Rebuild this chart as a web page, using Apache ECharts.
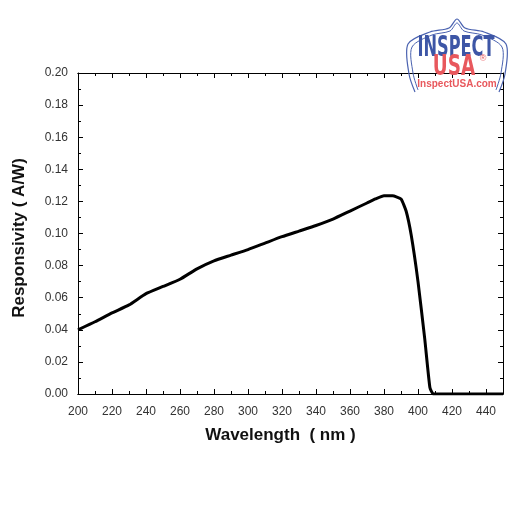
<!DOCTYPE html>
<html>
<head>
<meta charset="utf-8">
<script src="https://cdn.jsdelivr.net/npm/echarts@6/dist/echarts.min.js"></script>
<style>
  html, body { margin: 0; padding: 0; background: #fff; }
  #chart { width: 512px; height: 512px; }
</style>
</head>
<body>
<div id="chart"></div>
<script>
// spectral response
const wavelength = [200, 210, 220, 230, 240, 250, 260, 270, 280, 290, 300, 310, 320, 330, 340, 350,
  360, 370, 375, 380, 385, 390, 393, 396, 400, 404, 407, 409, 420, 430, 440, 450];
const responsivity = [0.040, 0.045, 0.0505, 0.0555, 0.0625, 0.067, 0.0715, 0.078, 0.083, 0.0865, 0.090,
  0.094, 0.098, 0.1015, 0.105, 0.109, 0.114, 0.119, 0.1215, 0.1235, 0.1235, 0.1215, 0.114, 0.099,
  0.070, 0.034, 0.004, 0, 0, 0, 0, 0];

const xTickLabels = [200, 220, 240, 260, 280, 300, 320, 340, 360, 380, 400, 420, 440];
const yTickLabels = ['0.00', '0.02', '0.04', '0.06', '0.08', '0.10', '0.12', '0.14', '0.16', '0.18', '0.20'];

const FONT = '"Liberation Sans", Arial, sans-serif';
const black = '#000';

function xAxisDef(position, interval, tickLen, withLabels) {
  return {
    type: 'value',
    position: position,
    min: 200,
    max: 450,
    interval: interval,
    axisLine: { show: true, onZero: false, lineStyle: { color: black, width: 1 } },
    axisTick: { show: true, inside: true, length: tickLen, lineStyle: { color: black } },
    axisLabel: withLabels ? {
      show: true,
      margin: 12,
      fontSize: 12,
      fontFamily: FONT,
      color: '#333',
      formatter: v => (xTickLabels.indexOf(v) >= 0 ? String(v) : '')
    } : { show: false },
    splitLine: { show: false }
  };
}

function yAxisDef(position, withLabels) {
  return {
    type: 'value',
    position: position,
    min: 0,
    max: 0.2,
    interval: 0.02,
    axisLine: { show: true, onZero: false, lineStyle: { color: black, width: 1 } },
    axisTick: { show: true, inside: true, length: 5, lineStyle: { color: black } },
    minorTick: { show: true, splitNumber: 2, length: 3, lineStyle: { color: black } },
    axisLabel: withLabels ? {
      show: true,
      margin: 10,
      fontSize: 12,
      fontFamily: FONT,
      color: '#333',
      formatter: v => yTickLabels[Math.round(v / 0.02)]
    } : { show: false },
    splitLine: { show: false }
  };
}

const xMain = xAxisDef('bottom', 10, 3, true);
xMain.name = 'Wavelength  ( nm )';
xMain.nameLocation = 'middle';
xMain.nameGap = 33;
xMain.nameTextStyle = { fontSize: 17, fontWeight: 'bold', fontFamily: FONT, color: '#111', padding: [0, 20, 0, 0] };

const yMain = yAxisDef('left', true);
yMain.name = 'Responsivity ( A/W)';
yMain.nameLocation = 'middle';
yMain.nameGap = 50;
yMain.nameTextStyle = { fontSize: 17, fontWeight: 'bold', fontFamily: FONT, color: '#111', padding: [0, 9, 0, 0] };

const blue = '#4a62b0';
const red = '#e8585d';

// logo shield outline (decoration)
const shieldOuter = [[415, 92], [409, 74], [408, 44], [430, 32], [449, 28], [457, 19], [465, 28], [484, 32], [506, 44], [505, 74], [499, 92]];
const shieldInner = [[418, 90], [413, 73], [412, 47], [432, 35], [450, 31], [457, 23], [464, 31], [482, 35], [502, 47], [501, 73], [496, 90]];

const option = {
  animation: false,
  backgroundColor: '#fff',
  grid: { left: 78, right: 9, top: 73, bottom: 118, containLabel: false },
  xAxis: [
    xMain,
    xAxisDef('bottom', 20, 5, false),
    xAxisDef('top', 10, 3, false),
    xAxisDef('top', 20, 5, false)
  ],
  yAxis: [
    yMain,
    yAxisDef('right', false)
  ],
  series: [{
    type: 'line',
    xAxisIndex: 0,
    yAxisIndex: 0,
    data: wavelength.map((w, i) => [w, responsivity[i]]),
    showSymbol: false,
    smooth: 0.15,
    lineStyle: { color: black, width: 3 },
    z: 5
  }],
  graphic: [
    {
      type: 'polyline',
      shape: { points: shieldOuter, smooth: 0.3 },
      style: { stroke: blue, fill: null, lineWidth: 1.2 },
      z: 1
    },
    {
      type: 'polyline',
      shape: { points: shieldInner, smooth: 0.3 },
      style: { stroke: blue, fill: null, lineWidth: 1 },
      z: 1
    },
    {
      type: 'text', x: 456, y: 48, scaleX: 0.62,
      style: { text: 'INSPECT', font: 'bold 29px "Liberation Sans Narrow", "DejaVu Sans Condensed", sans-serif', fill: '#3d56a6', align: 'center', verticalAlign: 'middle' },
      z: 2
    },
    {
      type: 'text', x: 454, y: 68, scaleX: 0.73,
      style: { text: 'USA', font: 'bold 28px "Liberation Sans Narrow", "DejaVu Sans Condensed", sans-serif', fill: red, align: 'center', verticalAlign: 'middle' },
      z: 2
    },
    {
      type: 'text', x: 483, y: 59,
      style: { text: '®', font: '9px ' + FONT, fill: red, align: 'center', verticalAlign: 'middle' },
      z: 2
    },
    {
      type: 'text', x: 457, y: 84,
      style: { text: 'InspectUSA.com', font: 'bold 10px ' + FONT, fill: red, align: 'center', verticalAlign: 'middle' },
      z: 10
    }
  ]
};

const chart = echarts.init(document.getElementById('chart'));
chart.setOption(option);
</script>
</body>
</html>
